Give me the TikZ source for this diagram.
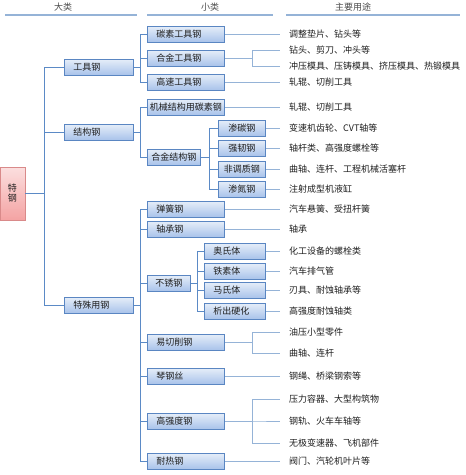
\documentclass[tikz,border=0pt]{standalone}
\usepackage{fontspec}
\setmainfont{Noto Sans CJK SC}
\usepackage{tikz}
\usetikzlibrary{shadows}
\definecolor{Line}{HTML}{5B8AC6}
\definecolor{LineL}{HTML}{95B3D7}
\definecolor{BoxTop}{HTML}{E6EEF9}
\definecolor{BoxBot}{HTML}{A9C3EA}
\definecolor{BoxDraw}{HTML}{5A86C2}
\definecolor{Rose}{HTML}{F4A3A3}
\definecolor{RoseDraw}{HTML}{D98A8A}
\definecolor{Ink}{HTML}{1E1E1E}

\begin{document}
\begin{tikzpicture}[x=1pt,y=-1pt,font=\fontsize{9}{10}\selectfont,text=Ink,
    base/.style={draw=BoxDraw,line width=0.8pt,top color=BoxTop,bottom color=BoxBot,
      drop shadow={shadow xshift=0.8pt,shadow yshift=-1pt,opacity=0.3},
      anchor=west,minimum height=16pt,inner ysep=0pt},
    n/.style={base,inner xsep=9pt,text width=#1,align=left},
    nc/.style={base,inner xsep=2pt,minimum width=#1,align=center},
    r/.style={draw=RoseDraw,line width=0.8pt,top color=Rose!35,bottom color=Rose,
      drop shadow={shadow xshift=0.8pt,shadow yshift=-1pt,opacity=0.3},
      minimum width=25pt,minimum height=53pt,inner sep=0pt,align=center},
    u/.style={anchor=west,inner xsep=9pt,inner ysep=0pt},
    a/.style={draw=Line,line width=1pt},
    al/.style={draw=LineL,line width=1pt},
    h/.style={draw=LineL,line width=1.5pt}]
  \useasboundingbox (0,0) rectangle (466,475);
  % headers
  \node[text=Ink!80] (h1) at (63,7) {大类};
  \node[text=Ink!80] (h2) at (210,7) {小类};
  \node[text=Ink!80] (h3) at (353,7) {主要用途};
  \draw[h] (5,15) -- (137,15);
  \draw[h] (147,15) -- (273,15);
  \draw[h] (286,15) -- (460,15);
  % root and first level
  \node[r] (root) at (12.5,193.5) {特\\钢};
  \node[n=51pt] (gj) at (64,67) {工具钢};
  \node[n=51pt] (jg) at (64,132) {结构钢};
  \node[n=51pt] (ts) at (64,305) {特殊用钢};
  % tool steel
  \node[n=59pt] (tsgj) at (147,34) {碳素工具钢};
  \node[n=59pt] (hjgj) at (147,58) {合金工具钢};
  \node[n=59pt] (gsgj) at (147,82) {高速工具钢};
  % structural steel
  \node[n=72pt,inner xsep=2.5pt] (jxjg) at (147,107) {机械结构用碳素钢};
  \node[nc=53pt] (hjjg) at (147,157) {合金结构钢};
  \node[nc=47pt] (st) at (218,128) {渗碳钢};
  \node[nc=47pt] (qr) at (218,148) {强韧钢};
  \node[nc=47pt] (ftz) at (218,169) {非调质钢};
  \node[nc=47pt] (sd) at (218,189) {渗氮钢};
  % special steel
  \node[n=59pt] (thg) at (147,209) {弹簧钢};
  \node[n=59pt] (zcg) at (147,229) {轴承钢};
  \node[nc=43pt] (bxg) at (147,283) {不锈钢};
  \node[n=43pt] (ast) at (204,251) {奥氏体};
  \node[n=43pt] (tst) at (204,271) {铁素体};
  \node[n=43pt] (mst) at (204,290) {马氏体};
  \node[n=43pt] (xch) at (204,311) {析出硬化};
  \node[n=59pt] (yqx) at (147,342) {易切削钢};
  \node[n=59pt] (qgs) at (147,376) {琴钢丝};
  \node[n=59pt] (gqd) at (147,421) {高强度钢};
  \node[n=59pt] (nrg) at (147,461) {耐热钢};
  % uses
  \node[u] (u1) at (280,34) {调整垫片、钻头等};
  \node[u] (u2) at (280,50) {钻头、剪刀、冲头等};
  \node[u] (u3) at (280,66) {冲压模具、压铸模具、挤压模具、热锻模具};
  \node[u] (u4) at (280,82) {轧辊、切削工具};
  \node[u] (u5) at (280,107) {轧辊、切削工具};
  \node[u] (u6) at (280,128) {变速机齿轮、CVT轴等};
  \node[u] (u7) at (280,148) {轴杆类、高强度螺栓等};
  \node[u] (u8) at (280,169) {曲轴、连杆、工程机械活塞杆};
  \node[u] (u9) at (280,189) {注射成型机液缸};
  \node[u] (u10) at (280,209) {汽车悬簧、受扭杆簧};
  \node[u] (u11) at (280,229) {轴承};
  \node[u] (u12) at (280,251) {化工设备的螺栓类};
  \node[u] (u13) at (280,271) {汽车排气管};
  \node[u] (u14) at (280,290) {刃具、耐蚀轴承等};
  \node[u] (u15) at (280,311) {高强度耐蚀轴类};
  \node[u] (u16) at (280,332) {油压小型零件};
  \node[u] (u17) at (280,353) {曲轴、连杆};
  \node[u] (u18) at (280,376) {钢绳、桥梁钢索等};
  \node[u] (u19) at (280,399) {压力容器、大型构筑物};
  \node[u] (u20) at (280,421) {钢轨、火车车轴等};
  \node[u] (u21) at (280,443) {无极变速器、飞机部件};
  \node[u] (u22) at (280,461) {阀门、汽轮机叶片等};
  % tree links
  \foreach \c in {gj,jg,ts} \draw[a] (root.east) -- ++(19,0) |- (\c.west);
  \foreach \c in {tsgj,hjgj,gsgj} \draw[a] (gj.east) -- ++(7,0) |- (\c.west);
  \foreach \c in {jxjg,hjjg} \draw[a] (jg.east) -- ++(7,0) |- (\c.west);
  \foreach \c in {st,qr,ftz,sd} \draw[a] (hjjg.east) -- ++(9,0) |- (\c.west);
  \foreach \c in {thg,zcg,bxg,yqx,qgs,gqd,nrg} \draw[a] (ts.east) -- ++(7,0) |- (\c.west);
  \foreach \c in {ast,tst,mst,xch} \draw[a] (bxg.east) -- ++(7,0) |- (\c.west);
  % use links
  \draw[al] (tsgj) -- (u1); \draw[al] (gsgj) -- (u4); \draw[al] (jxjg) -- (u5);
  \draw[al] (st) -- (u6); \draw[al] (qr) -- (u7); \draw[al] (ftz) -- (u8); \draw[al] (sd) -- (u9);
  \draw[al] (thg) -- (u10); \draw[al] (zcg) -- (u11);
  \draw[al] (ast) -- (u12); \draw[al] (tst) -- (u13); \draw[al] (mst) -- (u14); \draw[al] (xch) -- (u15);
  \draw[al] (qgs) -- (u18); \draw[al] (nrg) -- (u22);
  \foreach \c in {u2,u3} \draw[al] (hjgj.east) -- ++(28,0) |- (\c.west);
  \foreach \c in {u16,u17} \draw[al] (yqx.east) -- ++(28,0) |- (\c.west);
  \foreach \c in {u19,u20,u21} \draw[al] (gqd.east) -- ++(28,0) |- (\c.west);
\end{tikzpicture}
\end{document}
